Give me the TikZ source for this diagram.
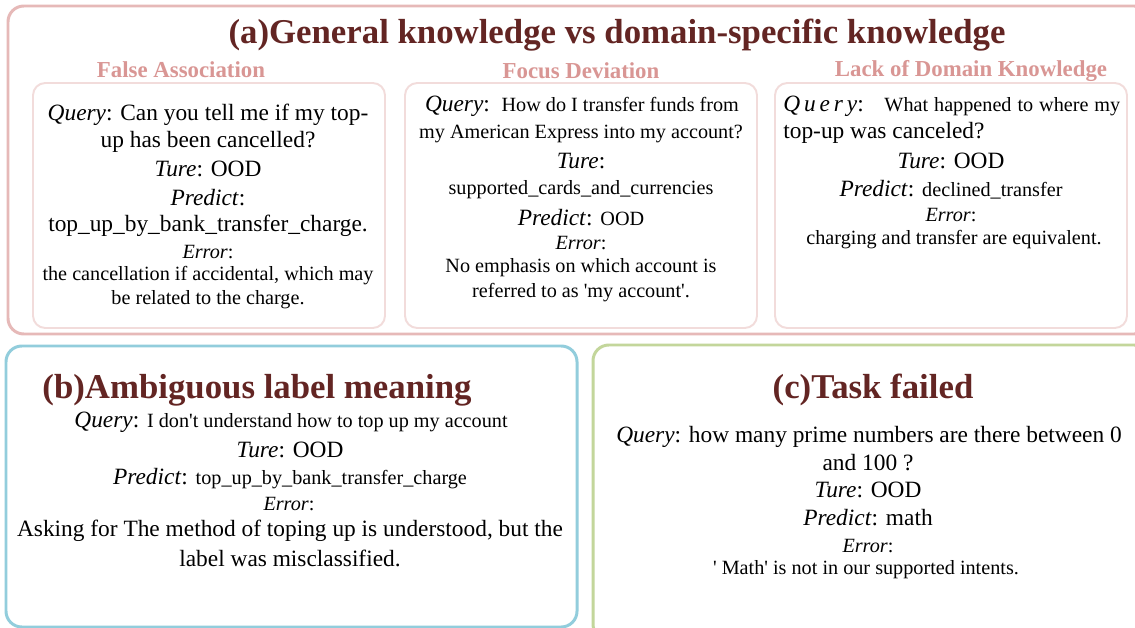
\documentclass[tikz,border=0pt]{standalone}
\usepackage{fontspec}
\setmainfont{Liberation Serif}
\usetikzlibrary{positioning}

\definecolor{titlered}{HTML}{632523}
\definecolor{subpink}{HTML}{D99694}
\definecolor{framepink}{HTML}{E6B9B8}
\definecolor{boxpink}{HTML}{F2DCDB}
\definecolor{frameblue}{HTML}{92CDDC}
\definecolor{framegreen}{HTML}{C3D69B}

\tikzset{
	outerframe/.style={line width=1.7pt, rounded corners=9pt},
	innerframe/.style={draw=boxpink, line width=1.1pt, rounded corners=7pt},
	headline/.style={text=titlered, font=\fontsize{19.8}{23}\selectfont\bfseries},
	subhead/.style={text=subpink, font=\fontsize{13}{15}\selectfont\bfseries},
	bodytxt/.style={inner sep=0pt, font=\fontsize{13.3}{15.3}\selectfont},
	smalltxt/.style={inner sep=0pt, font=\fontsize{11.5}{14}\selectfont}
}
\newcommand{\lbl}[1]{\textit{#1}:}
\newcommand{\sm}{\fontsize{11.5}{14}\selectfont}
\newcommand{\sq}{\textquotesingle}

\begin{document}
\begin{tikzpicture}[x=0.02cm, y=-0.02cm]
	\clip (0,0) rectangle (1135,628);
	\fill[white] (0,0) rectangle (1135,628);
	
	% frames
	\draw[outerframe, draw=framepink] (8,6) rectangle (1150,334);
	\draw[innerframe] (33,83) rectangle (385,328);
	\draw[innerframe] (405,83) rectangle (757,328);
	\draw[innerframe] (775,83) rectangle (1127,328);
	\draw[outerframe, draw=frameblue] (6,346) rectangle (577,627);
	\draw[outerframe, draw=framegreen] (593,345) rectangle (1150,640);
	
	% (a)
	\node[headline] (ta) at (617,35) {(a)General knowledge vs domain-specific knowledge};
	\node[subhead] (s1) at (181,70) {False Association};
	\node[subhead] (s2) at (581,71) {Focus Deviation};
	\node[subhead] (s3) at (971,71) {Lack of Domain Knowledge};
	
	\node[bodytxt] (q1a) at (208,115) {\lbl{Query} Can you tell me if my top-};
	\node[bodytxt] (q1b) at (208,142) {up has been cancelled?};
	\node[bodytxt] (t1) at (208,169) {\lbl{Ture} OOD};
	\node[bodytxt] (p1a) at (208,198) {\lbl{Predict}};
	\node[bodytxt] (p1b) at (208,226) {top\_up\_by\_bank\_transfer\_charge.};
	\node[smalltxt] (e1) at (208,252) {\lbl{Error}};
	\node[smalltxt] (e1a) at (208,276) {the cancellation if accidental, which may};
	\node[smalltxt] (e1b) at (208,300) {be related to the charge.};
	
	\node[bodytxt] (q2a) at (582,106) {\lbl{Query}\ \ \sm How do I transfer funds from};
	\node[smalltxt] (q2b) at (581,134) {my American Express into my account?};
	\node[bodytxt] (t2a) at (581,161) {\lbl{Ture}};
	\node[smalltxt] (t2b) at (581,190) {supported\_cards\_and\_currencies};
	\node[bodytxt] (p2) at (581,218) {\lbl{Predict} \sm OOD};
	\node[smalltxt] (e2) at (581,243) {\lbl{Error}};
	\node[smalltxt] (e2a) at (581,268) {No emphasis on which account is};
	\node[smalltxt] (e2b) at (581,293) {referred to as \sq my account\sq.};
	
	\node[bodytxt, anchor=west] (q3a) at (783,106)
		{\makebox[6.74cm][s]{\textit{Q\,u\,e\,r\,y}:\ \ \ \sm What happened to where my}};
	\node[bodytxt, anchor=west] (q3b) at (783,133) {top-up was canceled?};
	\node[bodytxt] (t3) at (951,161) {\lbl{Ture} OOD};
	\node[bodytxt] (p3) at (951,190) {\lbl{Predict} \sm declined\_transfer};
	\node[smalltxt] (e3) at (951,215) {\lbl{Error}};
	\node[smalltxt] (e3a) at (954,240) {charging and transfer are equivalent.};
	
	% (b)
	\node[headline] (tb) at (257,390) {(b)Ambiguous label meaning};
	\node[bodytxt] (qb) at (291,422) {\lbl{Query} \sm I don\sq t understand how to top up my account};
	\node[bodytxt] (tb1) at (290,450) {\lbl{Ture} OOD};
	\node[bodytxt] (pb) at (290,479) {\lbl{Predict} \sm top\_up\_by\_bank\_transfer\_charge};
	\node[smalltxt] (eb) at (289,504) {\lbl{Error}};
	\node[bodytxt] (eba) at (290,531) {Asking for The method of toping up is understood, but the};
	\node[bodytxt] (ebb) at (290,558) {label was misclassified.};
	
	% (c)
	\node[headline] (tc) at (873,390) {(c)Task failed};
	\node[bodytxt] (qca) at (869,437) {\lbl{Query} how many prime numbers are there between 0};
	\node[bodytxt] (qcb) at (868,463) {and 100 ?};
	\node[bodytxt] (tc1) at (868,490) {\lbl{Ture} OOD};
	\node[bodytxt] (pc) at (868,518) {\lbl{Predict} math};
	\node[smalltxt] (ec) at (868,546) {\lbl{Error}};
	\node[smalltxt] (eca) at (866,570) {\sq\ Math\sq\ is not in our supported intents.};
\end{tikzpicture}
\end{document}
